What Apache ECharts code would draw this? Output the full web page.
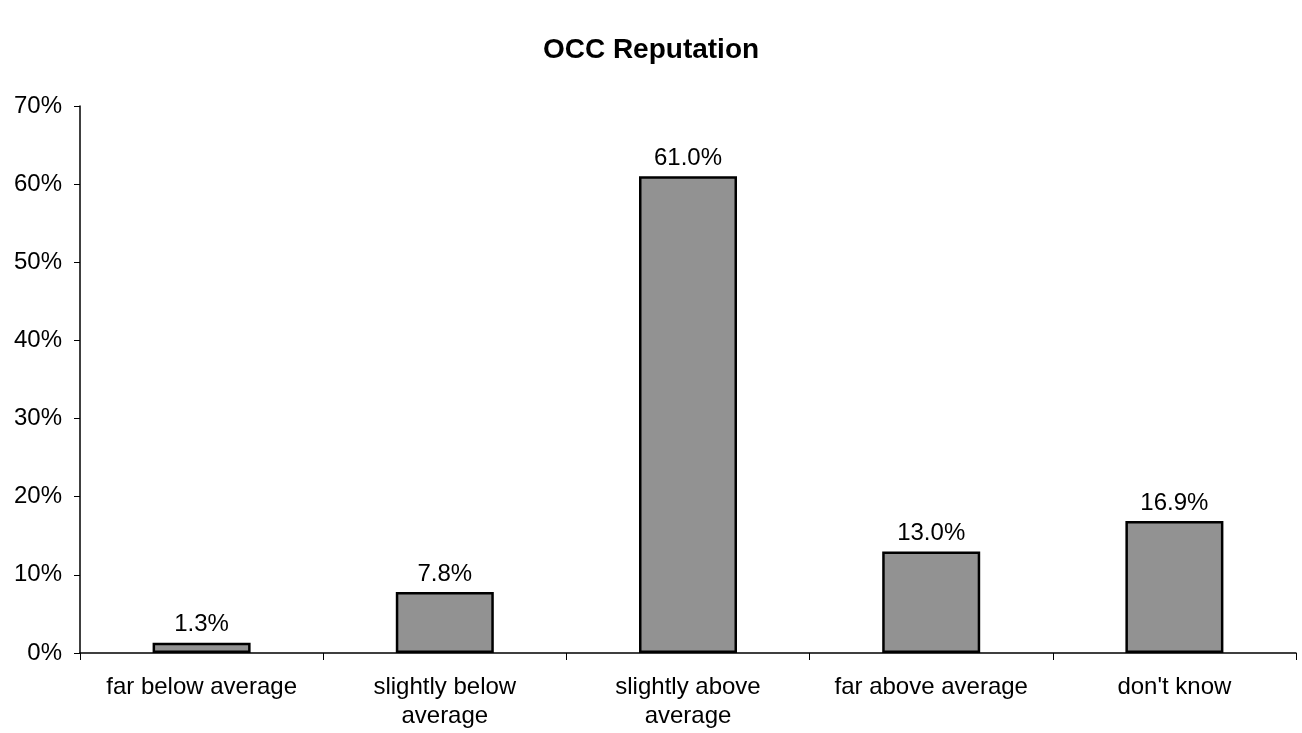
<!DOCTYPE html>
<html><head><meta charset="utf-8">
<script src="https://cdn.jsdelivr.net/npm/echarts@6/dist/echarts.min.js"></script>
<style>html,body{margin:0;padding:0;background:#fff}#c{width:1302px;height:733px}</style>
</head><body><div id="c"></div>
<script>
const categories = ["far below average", "slightly below\naverage", "slightly above\naverage", "far above average", "don't know"];
const values = [1.3, 7.8, 61.0, 13.0, 16.9];
const yTicks = [0, 10, 20, 30, 40, 50, 60, 70];

const chart = echarts.init(document.getElementById('c'));
chart.setOption({
  animation: false,
  backgroundColor: '#fff',
  title: {
    text: 'OCC Reputation', left: 'center', top: 31,
    textStyle: { fontFamily: 'Liberation Sans, Arial', fontSize: 28, fontWeight: 'bold', color: '#000' }
  },
  grid: { left: 80, right: 6, top: 106, bottom: 80 },
  xAxis: {
    type: 'category', data: categories,
    axisLine: { lineStyle: { color: '#000', width: 1.5 } },
    axisTick: { show: true, length: 7, lineStyle: { color: '#000' } },
    axisLabel: { color: '#000', fontFamily: 'Liberation Sans, Arial', fontSize: 24, margin: 20, lineHeight: 29, interval: 0 }
  },
  yAxis: {
    type: 'value', min: yTicks[0], max: yTicks[yTicks.length - 1], interval: 10,
    axisLine: { show: true, lineStyle: { color: '#000', width: 1.5 } },
    axisTick: { show: true, length: 6, lineStyle: { color: '#000' } },
    splitLine: { show: false },
    axisLabel: { color: '#000', fontFamily: 'Liberation Sans, Arial', fontSize: 24, margin: 18, formatter: v => v + '%' }
  },
  series: [{
    type: 'bar', data: values, barWidth: 98,
    itemStyle: { color: '#929292', borderColor: '#000', borderWidth: 2.5 },
    label: { show: true, position: 'top', distance: 6, color: '#000', fontFamily: 'Liberation Sans, Arial', fontSize: 24, formatter: p => p.value.toFixed(1) + '%' }
  }]
});
</script></body></html>
